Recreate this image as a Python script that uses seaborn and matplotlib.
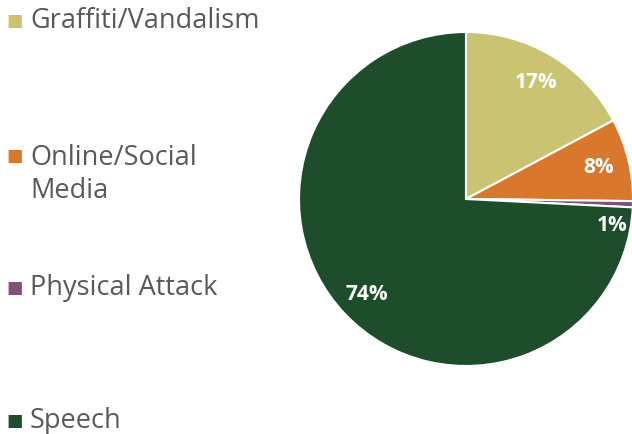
#!/usr/bin/env python3

import matplotlib
matplotlib.use('Agg')
import matplotlib.pyplot as plt
import seaborn as sns
import numpy as np

categories = ['Graffiti/Vandalism', 'Online/Social\nMedia', 'Physical Attack', 'Speech']
shares = [17.2, 8.0, 0.6, 74.2]
pct_labels = ['17%', '8%', '1%', '74%']
colors = ['#C9C372', '#D9782D', '#7E5175', '#1E4D2B']


def plot_incident_pie():
    '''Pie of incident types with a stacked legend on the left.'''
    sns.set_theme(style='white')
    plt.rcParams['font.family'] = ['Open Sans', 'DejaVu Sans']

    W, H = 632, 435
    fig = plt.figure(figsize=(W / 100, H / 100), dpi=100)

    # pie centre (466, 200) px, radius 167 px
    side = 167 * 2 * 1.25
    ax = fig.add_axes([(466 - side / 2) / W, (H - 200 - side / 2) / H,
                       side / W, side / H])
    wedges, texts, autotexts = ax.pie(
            shares,
            colors=colors,
            startangle=90,
            counterclock=False,
            autopct='%1.0f%%',
            pctdistance=0.82,
            wedgeprops=dict(edgecolor='white', linewidth=1.5),
            textprops=dict(color='white', fontsize=15, fontweight='bold'),
            )
    for t, lab in zip(autotexts, pct_labels):
        t.set_text(lab)
    # Excel nudges the tiny slice label just below the slice
    ang = np.deg2rad(-10)
    autotexts[2].set_position((0.89 * np.cos(ang), 0.89 * np.sin(ang)))
    ax.set_xlim(-1.25, 1.25)
    ax.set_ylim(-1.25, 1.25)
    ax.set_aspect('equal')
    ax.axis('off')

    # left legend, centre of the first line of each entry
    rows = [21, 156, 288, 421]
    for lab, col, y in zip(categories, colors, rows):
        fy = 1 - y / H
        fig.text(6 / W, fy, '\u25A0', color=col, fontsize=12.5,
                 family='DejaVu Sans', va='center', ha='left')
        if '\n' in lab:
            fig.text(30 / W, 1 - (y - 12) / H, lab, color='#595959',
                     fontsize=19.5, va='top', ha='left', linespacing=1.22)
        else:
            fig.text(30 / W, fy, lab, color='#595959', fontsize=19.5,
                     va='center', ha='left')

    fig.savefig('out.png', dpi=100)


def main():
    plot_incident_pie()


if __name__ == '__main__':
    main()
